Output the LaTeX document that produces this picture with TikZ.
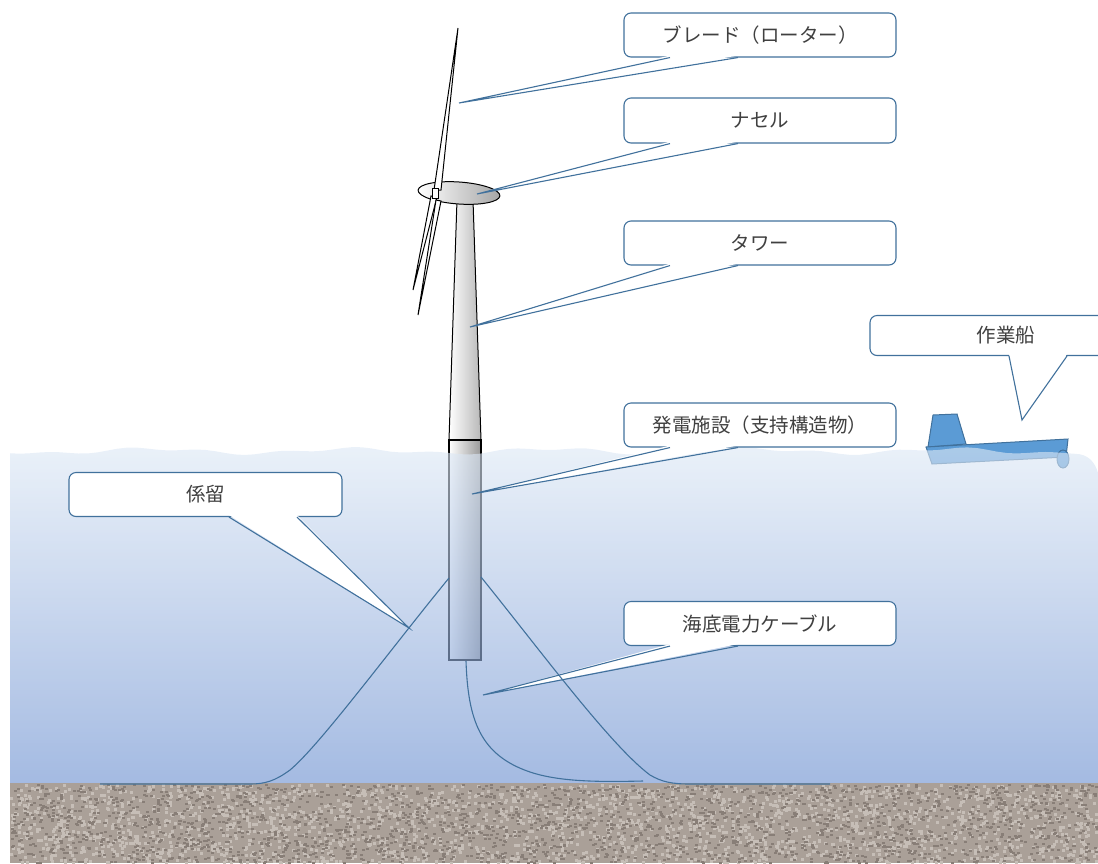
\documentclass[tikz,border=0pt]{standalone}
\usepackage{fontspec}
\setmainfont{Noto Sans CJK JP}
\usetikzlibrary{positioning}

\definecolor{lineblue}{RGB}{65,113,156}
\definecolor{hullblue}{RGB}{91,155,213}
\definecolor{seatop}{RGB}{221,232,245}
\definecolor{seabottom}{RGB}{108,144,208}
\definecolor{sandbase}{RGB}{170,160,152}
\definecolor{sandlight}{RGB}{198,190,183}
\definecolor{sanddark}{RGB}{136,126,119}
\definecolor{labeltext}{RGB}{64,64,64}

% wedge of a callout: node, left and right offset of the base, tip
\newcommand{\pointer}[4]{%
  \fill[white] ([xshift=#2pt,yshift=2pt]#1.south) -- (#4) -- ([xshift=#3pt,yshift=2pt]#1.south) -- cycle;
  \draw[leader] ([xshift=#2pt]#1.south) -- (#4) -- ([xshift=#3pt]#1.south);
}

\begin{document}
\begin{tikzpicture}[x=1pt, y=-1pt,
    labelbox/.style={draw=lineblue, line width=1.1pt, fill=white, rounded corners=7pt,
      minimum width=272pt, minimum height=44pt, inner sep=0pt, text=labeltext,
      font=\fontsize{19.5}{23}\selectfont},
    leader/.style={draw=lineblue, line width=1.1pt},
    steel/.style={left color=white, right color=black!28, draw=black, line width=1pt},
    hull/.style={fill=hullblue, draw=lineblue, line width=1pt}]
  \useasboundingbox (0,0) rectangle (1098,863);
  \clip (0,0) rectangle (1098,863);

  % work vessel
  \filldraw[hull] (933,415) -- (957,414) -- (966,444) -- (928,447) -- cycle;
  \filldraw[hull] (926,447) -- (1068,439) -- (1066,457) -- (932,464) -- cycle;
  \filldraw[hull] (1063,459) ellipse [x radius=6, y radius=9];

  % tower, pile and nacelle
  \shadedraw[steel] (457,200) -- (473,200) -- (481,440) -- (449,440) -- cycle;
  \shadedraw[steel, right color=black!40, line width=1.2pt] (449,440) rectangle (481,660);
  \shadedraw[steel, right color=black!35, rotate around={-4:(459,193)}] (459,193) ellipse [x radius=41, y radius=11];

  % blades
  \filldraw[fill=white, draw=black, line width=1pt] (458,28) -- (441,190) -- (434,190) -- cycle;
  \filldraw[fill=white, draw=black, line width=1pt] (431,196) -- (437,197) -- (413,290) -- cycle;
  \filldraw[fill=white, draw=black, line width=1pt] (436,200) -- (441,201) -- (418,315) -- cycle;
  \filldraw[fill=white, draw=black, line width=1pt] (432,188) rectangle (438,198);

  % sea
  \shade[top color=seatop, bottom color=seabottom, opacity=0.62]
    (10,783) -- plot[domain=10:1075, samples=110] (\x, {451 + 2.5*sin(1.8*\x) + 1.5*sin(4.7*\x + 30)})
    .. controls (1088,454) and (1095,462) .. (1098,473) -- (1098,783) -- cycle;

  % seabed
  \fill[sandbase] (10,783) rectangle (1098,863);
  \pgfmathsetseed{42}
  \foreach \i in {1,...,2400}{
    \pgfmathsetmacro\sx{10+1086*rnd}
    \pgfmathsetmacro\sy{784+78*rnd}
    \fill[sandlight] (\sx,\sy) rectangle ++(3,3);
  }
  \foreach \i in {1,...,2400}{
    \pgfmathsetmacro\sx{10+1086*rnd}
    \pgfmathsetmacro\sy{784+78*rnd}
    \fill[sanddark] (\sx,\sy) rectangle ++(3,2);
  }

  % callouts
  \node[labelbox] (blade) at (760,35) {ブレード（ローター）};
  \node[labelbox, minimum height=45pt] (nacelle) at (760,120.5) {ナセル};
  \node[labelbox] (tower) at (760,243) {タワー};
  \node[labelbox, minimum height=40pt] (vessel) at (1006,335.5) {作業船};
  \node[labelbox] (plant) at (760,425) {発電施設（支持構造物）};
  \node[labelbox, minimum width=273pt] (mooring) at (205.5,494.5) {係留};
  \node[labelbox] (cable) at (760,623.5) {海底電力ケーブル};

  \coordinate (bladetip) at (459,103);
  \coordinate (nacelletip) at (477,194);
  \coordinate (towertip) at (470,327);
  \coordinate (vesseltip) at (1022,420);
  \coordinate (planttip) at (472,494);
  \coordinate (mooringtip) at (409,628);
  \coordinate (cabletip) at (483,695);

  \pointer{blade}{-90}{-22}{bladetip}
  \pointer{nacelle}{-90}{-22}{nacelletip}
  \pointer{tower}{-90}{-22}{towertip}
  \pointer{vessel}{3}{61}{vesseltip}
  \pointer{plant}{-90}{-22}{planttip}
  \pointer{mooring}{23.5}{91.5}{mooringtip}
  \pointer{cable}{-90}{-22}{cabletip}

  % mooring lines and export cable
  \coordinate (fairleadL) at (449,578);
  \coordinate (fairleadR) at (481,577);
  \coordinate (pilefoot) at (466,661);
  \coordinate (anchorL) at (100,784);
  \coordinate (anchorR) at (830,784);
  \coordinate (cableend) at (643,781);
  \draw[leader] (fairleadL) .. controls (390,650) and (320,745) .. (290,770)
    .. controls (275,781) and (265,784) .. (250,784) -- (anchorL);
  \draw[leader] (fairleadR) .. controls (540,650) and (610,745) .. (650,775)
    .. controls (662,782) and (672,784) .. (690,784) -- (anchorR);
  \draw[leader] (pilefoot) .. controls (468,720) and (480,755) .. (530,772)
    .. controls (560,782) and (600,782) .. (cableend);
\end{tikzpicture}
\end{document}
